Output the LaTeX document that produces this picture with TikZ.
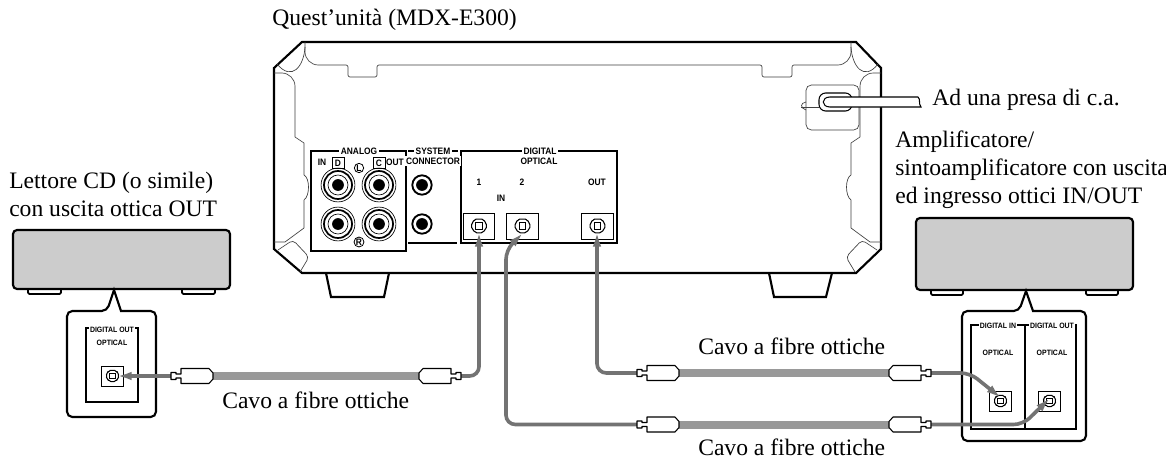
\documentclass[tikz,border=0pt]{standalone}
\usepackage{fontspec}
\setmainfont{Liberation Serif}
\newfontfamily\panelfont[FakeStretch=0.9]{Liberation Sans}
\usetikzlibrary{arrows.meta}

% socket drawn inside a port box
\newcommand{\opticsocket}[2]{%
  \draw[socketline, shift={(#1)}, scale=#2, rounded corners=1.5]
    (-6,-8) -- (6,-8) -- (7,-4) -- (10,0) -- (7,4) -- (5,8) -- (-5,8) -- (-7,4) -- (-10,0) -- (-7,-4) -- cycle;
  \draw[socketline, shift={(#1)}, scale=#2] (-4,-4) rectangle (4,4);
}
% plug with its tip end at the coordinate, #2 gives the side of the fibre
\newcommand{\opticplug}[2]{%
  \draw[plugline, shift={(#1)}, xscale=#2]
    (0,-3.5) -- (5,-3.5) -- (5,-2) -- (10,-2) -- (10,-7.5) -- (38,-7.5) -- (42,-3) -- (42,3)
    -- (38,7.5) -- (10,7.5) -- (10,2) -- (5,2) -- (5,3.5) -- (0,3.5) -- cycle;
}

\begin{document}
\begin{tikzpicture}[
  x=0.75pt, y=-0.75pt,
  every node/.style={font=\fontsize{17.7}{21}\selectfont},
  caption/.style={anchor=west, inner sep=0pt, align=left},
  panellabel/.style={font=\panelfont\bfseries\fontsize{7}{8}\selectfont, inner sep=1pt, fill=white},
  smalllabel/.style={font=\panelfont\bfseries\fontsize{5.8}{6}\selectfont, inner sep=1pt, fill=white},
  chassis/.style={line width=1.6pt, line join=miter},
  thinline/.style={line width=0.5pt, draw=black!75},
  frameline/.style={line width=0.8pt},
  socketline/.style={line width=0.8pt, fill=white},
  plugline/.style={line width=0.8pt, fill=white, line join=round},
  device/.style={line width=1.6pt, fill=black!20, rounded corners=3},
  devicefoot/.style={line width=1.3pt, rounded corners=1},
  callout/.style={line width=1.6pt, fill=white, rounded corners=4},
  portbox/.style={rectangle, draw, line width=0.7pt, fill=white, inner sep=0pt,
                  minimum width=23.5pt, minimum height=19.5pt},
  portsmall/.style={portbox, minimum width=17pt, minimum height=15pt},
  cable/.style={-{Latex[length=11pt, width=6.5pt]}, line width=2.7pt, draw=black!55, rounded corners=7},
  fibre/.style={line width=6pt, draw=black!40},
  ringjack/.style={circle, draw, line width=0.5pt, inner sep=0pt, minimum size=25.4pt},
  sidejack/.style={circle, draw, line width=1.4pt, inner sep=0pt, minimum size=14.5pt},
  jackcore/.style={circle, fill=black, inner sep=0pt, minimum size=8.8pt}
]
\useasboundingbox (0,0) rectangle (1166,460);

% main unit
\draw[chassis] (326,273) -- (331,297) -- (384,297) -- (389,273);
\draw[chassis] (769,273) -- (774,297) -- (826,297) -- (832,273);
\draw[chassis, fill=white] (302,42) -- (856,42) -- (881,68) -- (881,249) -- (856,273)
  -- (302,273) -- (274,249) -- (274,68) -- cycle;

\draw[thinline] (305,42) [rounded corners=10] -- (305,65) [rounded corners=1.5] -- (348,65) -- (348,77)
  -- (377,77) -- (377,65) -- (762,65) -- (762,77) -- (792,77) -- (792,65) [rounded corners=10]
  -- (851,65) [rounded corners=0] -- (851,42);
\draw[thinline] (305,47) .. controls (304,66) and (292,82) .. (277,64);
\draw[thinline] (851,47) .. controls (852,66) and (864,82) .. (878,64);
\draw[thinline] (274,73) [rounded corners=10] -- (295,73) [rounded corners=0] -- (295,137) -- (304,143)
  -- (304,175) .. controls (310,178) and (310,196) .. (304,200) -- (304,228) -- (285,242) -- (274,242);
\draw[thinline] (881,73) [rounded corners=10] -- (860,73) [rounded corners=0] -- (860,137) -- (851,143)
  -- (851,175) .. controls (845,178) and (845,196) .. (851,200) -- (851,228) -- (870,242) -- (881,242);
\draw[thinline, rounded corners=3] (278,250) -- (293,240) -- (309,257) -- (300,272);
\draw[thinline, rounded corners=3] (877,250) -- (862,240) -- (846,257) -- (855,272);

% analog and digital panels
\draw[frameline] (311,151) rectangle (406,251);
\draw[frameline] (408,151) -- (458,151);
\draw[frameline] (408,243) -- (457,243);
\draw[frameline] (461,151) rectangle (617,243);

\node[panellabel] at (359,151) (labAnalog) {ANALOG};
\node[panellabel] at (433,151) (labSystem) {SYSTEM};
\node[panellabel] at (433,161) (labConnector) {CONNECTOR};
\node[panellabel] at (540,151) (labDigital) {DIGITAL};
\node[panellabel] at (539,161) (labOptical) {OPTICAL};
\node[panellabel] at (322,162) (labIn) {IN};
\node[panellabel] at (395,162) (labOut) {OUT};
\node[panellabel] at (479,182) (labOne) {1};
\node[panellabel] at (522,182) (labTwo) {2};
\node[panellabel] at (597,182) (labOutB) {OUT};
\node[panellabel] at (501,198) (labInB) {IN};
\node[panellabel, draw, line width=0.6pt, minimum width=9pt, minimum height=8pt] at (338,163) (labD) {D};
\node[panellabel, draw, line width=0.6pt, minimum width=9pt, minimum height=8pt] at (379,163) (labC) {C};
\node[panellabel, draw, circle, line width=0.6pt, inner sep=0.3pt] at (359,168) (labL) {L};
\node[panellabel, draw, circle, line width=0.6pt, inner sep=0.3pt] at (359,242) (labR) {R};

% jacks
\node[ringjack] at (338,185) (jackA) {};
\node[ringjack] at (379,185) (jackB) {};
\node[ringjack] at (338,224) (jackC) {};
\node[ringjack] at (379,224) (jackD) {};
\node[ringjack, minimum size=21pt, line width=1.3pt] at (338,185) (ringA) {};
\node[ringjack, minimum size=21pt, line width=1.3pt] at (379,185) (ringB) {};
\node[ringjack, minimum size=21pt, line width=1.3pt] at (338,224) (ringC) {};
\node[ringjack, minimum size=21pt, line width=1.3pt] at (379,224) (ringD) {};
\node[ringjack, minimum size=15pt] at (338,185) (rimA) {};
\node[ringjack, minimum size=15pt] at (379,185) (rimB) {};
\node[ringjack, minimum size=15pt] at (338,224) (rimC) {};
\node[ringjack, minimum size=15pt] at (379,224) (rimD) {};
\node[jackcore] at (338,185) (coreA) {};
\node[jackcore] at (379,185) (coreB) {};
\node[jackcore] at (338,224) (coreC) {};
\node[jackcore] at (379,224) (coreD) {};
\node[sidejack] at (422,185) (jackE) {};
\node[sidejack] at (422,224) (jackF) {};
\node[jackcore] at (422,185) (coreE) {};
\node[jackcore] at (422,224) (coreF) {};

% optical ports on the unit
\node[portbox] at (479,226) (portInA) {};
\node[portbox] at (522.5,226) (portInB) {};
\node[portbox] at (597.5,226) (portOut) {};
\opticsocket{portInA}{0.85}
\opticsocket{portInB}{0.85}
\opticsocket{portOut}{0.85}

% power lead
\draw[thinline, fill=white, rounded corners=4] (806,85) rectangle (859,130);
\draw[thinline] (806,102) .. controls (800,103) and (800,108) .. (806,110);
\draw[thinline] (801,107) -- (819,107);
\draw[frameline, fill=white, rounded corners=5] (819,93) rectangle (852,111);
\draw[frameline, fill=white] (918,97) -- (830,97) .. controls (821,97) and (821,107) .. (830,107)
  -- (921,107) .. controls (918,103) and (921,100) .. (918,97);

% source device
\draw[devicefoot] (28,289) -- (28,294) -- (61,294) -- (61,289);
\draw[devicefoot] (182,289) -- (182,294) -- (215,294) -- (215,289);
\draw[device] (13,230) rectangle (230,289);
\draw[callout] (67,311) -- (107,311) [sharp corners] -- (114,290) -- (121,311) [rounded corners=4] -- (156,311)
  -- (156,417) -- (67,417) -- cycle;
\draw[frameline] (86,328) rectangle (138,402);
\node[smalllabel] at (112,330) (labCdOut) {DIGITAL OUT};
\node[smalllabel] at (112,343) (labCdOpt) {OPTICAL};
\node[portsmall] at (112.5,376) (portCd) {};
\opticsocket{portCd}{0.7}

% amplifier
\draw[devicefoot] (931,290) -- (931,295) -- (963,295) -- (963,290);
\draw[devicefoot] (1086,290) -- (1086,295) -- (1118,295) -- (1118,290);
\draw[device] (916,218) rectangle (1133,290);
\draw[callout] (962,311) -- (1019,311) [sharp corners] -- (1026,291) -- (1033,311) [rounded corners=4] -- (1086,311)
  -- (1086,441) -- (962,441) -- cycle;
\draw[frameline] (971,325) rectangle (1076,429);
\draw[frameline] (1025,325) -- (1025,429);
\node[smalllabel] at (998,326) (labAmpIn) {DIGITAL IN};
\node[smalllabel] at (1052,326) (labAmpOut) {DIGITAL OUT};
\node[smalllabel] at (998,353) (labAmpOptA) {OPTICAL};
\node[smalllabel] at (1052,353) (labAmpOptB) {OPTICAL};
\node[portsmall] at (1000.5,401) (portAmpIn) {};
\node[portsmall] at (1049.5,401) (portAmpOut) {};
\opticsocket{portAmpIn}{0.7}
\opticsocket{portAmpOut}{0.7}

% cable ends
\coordinate (tipCd) at (117,376);
\coordinate (plugCd) at (171,376);
\coordinate (fibreCd) at (213,376);
\coordinate (fibreUnit) at (419,376);
\coordinate (plugUnit) at (461,376);
\coordinate (tipInA) at (479,232);

\coordinate (plugOut) at (637,373);
\coordinate (fibreOut) at (679,373);
\coordinate (fibreAmpA) at (889,373);
\coordinate (plugAmpA) at (931,373);
\coordinate (bendAmpA) at (970,373);
\coordinate (tipAmpIn) at (1001,398);
\coordinate (tipOut) at (597,232);

\coordinate (plugInB) at (637,424.5);
\coordinate (fibreInB) at (679,424.5);
\coordinate (fibreAmpB) at (889,424.5);
\coordinate (plugAmpB) at (931,424.5);
\coordinate (bendAmpB) at (1023,424.5);
\coordinate (tipAmpOut) at (1050,398);
\coordinate (cornerInB) at (506,424.5);
\coordinate (bendInB) at (506,250);
\coordinate (tipInB) at (523,233);

% cables
\draw[fibre] (fibreCd) -- (fibreUnit);
\draw[fibre] (fibreOut) -- (fibreAmpA);
\draw[fibre] (fibreInB) -- (fibreAmpB);
\draw[cable] (plugCd) -- (tipCd);
\draw[cable] (plugUnit) -| (tipInA);
\draw[cable] (plugOut) -| (tipOut);
\draw[cable] (plugInB) -- (cornerInB) -- (bendInB) -- (tipInB);
\draw[cable] (plugAmpA) -- (bendAmpA) -- (tipAmpIn);
\draw[cable] (plugAmpB) -- (bendAmpB) -- (tipAmpOut);
\opticplug{plugCd}{1}
\opticplug{plugUnit}{-1}
\opticplug{plugOut}{1}
\opticplug{plugAmpA}{-1}
\opticplug{plugInB}{1}
\opticplug{plugAmpB}{-1}

% captions
\node[caption] at (272,20) (capUnit) {Quest'unità (MDX-E300)};
\node[caption] at (932,100) (capMains) {Ad una presa di c.a.};
\node[caption] at (895,170) (capAmp) {Amplificatore/\\sintoamplificatore con uscita\\ed ingresso ottici IN/OUT};
\node[caption] at (9,194) (capCd) {Lettore CD (o simile)\\con uscita ottica OUT};
\node[caption] at (222,400) (capCableA) {Cavo a fibre ottiche};
\node[caption] at (698,346) (capCableB) {Cavo a fibre ottiche};
\node[caption] at (698,447.5) (capCableC) {Cavo a fibre ottiche};

\end{tikzpicture}
\end{document}
